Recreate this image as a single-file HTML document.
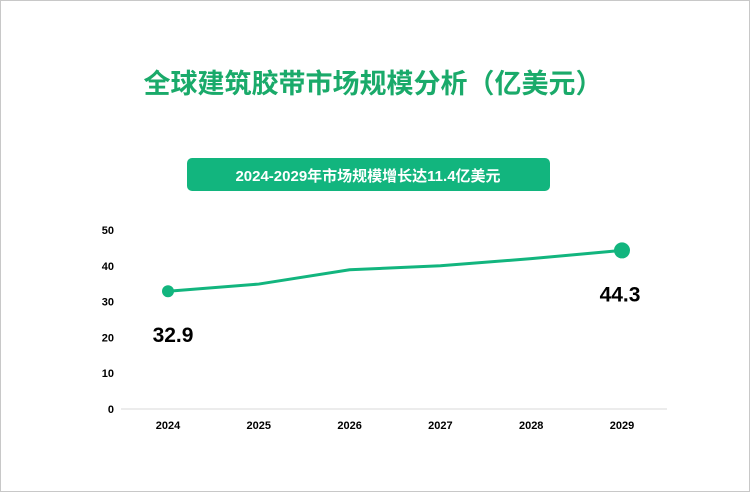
<!DOCTYPE html>
<html><head><meta charset="utf-8"><style>
body{margin:0;background:#fff;}
#wrap{position:relative;width:748px;height:490px;border:1px solid #c8c8c8;background:#fff;font-family:"Liberation Sans","Noto Sans CJK SC",sans-serif;}
</style></head><body>
<div id="wrap">
<svg id="chart" width="748" height="490">
<text x="372" y="92" text-anchor="middle" font-size="27" font-weight="bold" fill="#1aaa6a" font-family="Liberation Sans, Noto Sans CJK SC, sans-serif">全球建筑胶带市场规模分析（亿美元）</text>
<rect x="186" y="157" width="363" height="33" rx="5" fill="#12b57e"/>
<text x="367" y="180" text-anchor="middle" font-size="15" font-weight="bold" fill="#fff" font-family="Liberation Sans, Noto Sans CJK SC, sans-serif">2024-2029年市场规模增长达11.4亿美元</text>
<line x1="120" y1="408" x2="666" y2="408" stroke="#d9d9d9"/>
<g id="yt"></g><g id="xt"></g><g id="marks"></g>
</svg>
</div>
<script>
const years=["2024","2025","2026","2027","2028","2029"];
const values=[32.9,34.9,38.9,40.0,42.0,44.3];
const yTicks=[0,10,20,30,40,50];
const NS="http://www.w3.org/2000/svg";
const y=v=>408-v*3.58;
const x=i=>167+i*90.8;
function mk(t,a,p){const e=document.createElementNS(NS,t);for(const k in a)e.setAttribute(k,a[k]);p.appendChild(e);return e;}
const yt=document.getElementById('yt'),xt=document.getElementById('xt'),m=document.getElementById('marks');
yTicks.forEach(v=>{const t=mk('text',{x:113,y:y(v)+4,'text-anchor':'end','font-size':11,'font-weight':'bold',fill:'#000'},yt);t.textContent=v;

});
years.forEach((c,i)=>{const t=mk('text',{x:x(i),y:428,'text-anchor':'middle','font-size':11,'font-weight':'bold',fill:'#000'},xt);t.textContent=c;

});
const pl=mk('polyline',{points:values.map((v,i)=>x(i)+','+y(v)).join(' '),fill:'none',stroke:'#12b57e','stroke-width':3},m);


[0,values.length-1].forEach(i=>{const c=mk('circle',{cx:x(i),cy:y(values[i]),r:i==0?6:8,fill:'#12b57e'},m);


const off=i==0?51:51;
const t=mk('text',{x:x(i)+(i==0?5:-2),y:y(values[i])+off,'text-anchor':'middle','font-size':21,'font-weight':'bold',fill:'#000'},m);t.textContent=values[i];

});
</script>
</body></html>
